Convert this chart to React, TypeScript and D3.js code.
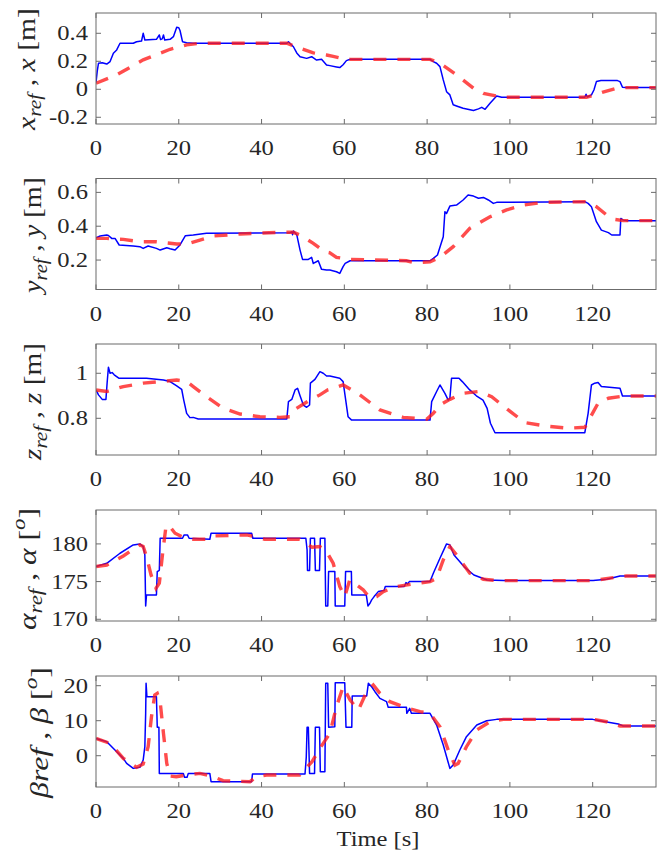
import React from 'react';
import * as d3 from 'd3';

type Pt = [number, number];

// Time axis
const timeTicks = [0, 20, 40, 60, 80, 100, 120];
const timeDomain: [number, number] = [0, 135.3];

// Position x [m]: measured and reference
const xMeasured: Pt[] = [
  [0, 0.048], [0.3, 0.13], [0.6, 0.186], [1.5, 0.19], [2.6, 0.18], [3.4, 0.198], [4.2, 0.257], [5.0, 0.281],
  [5.8, 0.329], [9.0, 0.329], [9.8, 0.34], [11.0, 0.345], [11.4, 0.4], [11.8, 0.352], [14.6, 0.357], [15.3, 0.388],
  [15.6, 0.355], [16.0, 0.36], [16.3, 0.388], [16.6, 0.352], [17.9, 0.357], [18.7, 0.376], [19.5, 0.443], [20.0, 0.44],
  [20.3, 0.42], [20.9, 0.34], [21.9, 0.333], [23.5, 0.329], [46.1, 0.329], [46.5, 0.34], [47.7, 0.304], [48.5, 0.26],
  [49.3, 0.233], [50.9, 0.221], [52.1, 0.233], [53.3, 0.209], [54.5, 0.214], [55.7, 0.174], [56.5, 0.169], [58.1, 0.16],
  [58.9, 0.155], [59.7, 0.175], [60.5, 0.205], [61.4, 0.214], [80.7, 0.214], [81.5, 0.198], [82.3, 0.186], [83.1, 0.162],
  [83.9, 0.067], [84.7, -0.017], [85.5, -0.04], [86.3, -0.11], [87.1, -0.119], [88.7, -0.136], [91.2, -0.152], [92.4, -0.14],
  [93.2, -0.129], [94.0, -0.143], [95.2, -0.1], [96.8, -0.048], [98, -0.057], [118.1, -0.057], [118.4, -0.035], [118.7, -0.055],
  [119.7, -0.04], [120.3, -0.005], [120.9, 0.055], [122.0, 0.062], [126.0, 0.062], [126.6, 0.055], [127.2, 0.014], [128, 0.012],
  [135.3, 0.012],
];
const xReference: Pt[] = [
  [0, 0.043], [5, 0.103], [11.4, 0.21], [17.9, 0.286], [21.9, 0.317], [25.1, 0.329], [46.1, 0.329], [49.3, 0.293],
  [52.5, 0.26], [55.7, 0.245], [57.3, 0.235], [59.7, 0.218], [61.4, 0.214], [80.7, 0.214], [83.1, 0.186], [87.1, 0.103],
  [91.2, 0.007], [93.6, -0.029], [96.8, -0.048], [98.4, -0.057], [118.5, -0.057], [120.1, -0.045], [122.5, -0.02],
  [125.8, 0.007], [127.8, 0.012], [135.3, 0.012],
];
const xTicks = [-0.2, 0, 0.2, 0.4];
const xTickLabels = ['-0.2', '0', '0.2', '0.4'];

// Position y [m]
const yMeasured: Pt[] = [
  [0, 0.332], [1.0, 0.342], [2.6, 0.348], [3.0, 0.345], [3.8, 0.328], [4.6, 0.328], [5.6, 0.289], [9.0, 0.283],
  [10.6, 0.279], [11.4, 0.269], [12.6, 0.283], [14.6, 0.269], [15.5, 0.259], [17.1, 0.273], [17.9, 0.267], [19.1, 0.259],
  [20.3, 0.289], [21.6, 0.344], [23.5, 0.348], [26.7, 0.358], [46.9, 0.362], [47.3, 0.367], [47.5, 0.35], [47.7, 0.372],
  [48.5, 0.35], [49.3, 0.259], [49.9, 0.204], [51.3, 0.204], [52.1, 0.216], [52.5, 0.18], [53.7, 0.196], [54.5, 0.145],
  [55.7, 0.141], [56.5, 0.141], [58.1, 0.131], [58.9, 0.121], [59.7, 0.161], [60.2, 0.18], [61.4, 0.196], [80.7, 0.196],
  [81.5, 0.21], [82.5, 0.23], [83.9, 0.338], [84.3, 0.486], [84.7, 0.476], [85.5, 0.519], [87.1, 0.525], [88.7, 0.555],
  [89.9, 0.584], [91.2, 0.578], [92.4, 0.565], [93.6, 0.57], [94.8, 0.555], [96.0, 0.535], [96.8, 0.541], [100, 0.541],
  [118.1, 0.545], [118.9, 0.535], [119.7, 0.515], [120.9, 0.427], [122.1, 0.377], [123.8, 0.362], [124.6, 0.348],
  [126.6, 0.348], [126.8, 0.446], [127.4, 0.436], [128.2, 0.433], [135.3, 0.433],
];
const yReference: Pt[] = [
  [0, 0.328], [2.6, 0.328], [6.6, 0.322], [10.6, 0.308], [14.6, 0.308], [19.5, 0.295], [21.9, 0.295], [25.1, 0.318],
  [28.3, 0.342], [34.8, 0.354], [44.4, 0.364], [47.7, 0.364], [49.3, 0.348], [52.5, 0.299], [55.3, 0.249], [56.5, 0.243],
  [58.1, 0.216], [61.4, 0.204], [75, 0.196], [77, 0.184], [80.7, 0.19], [83.1, 0.216], [86.3, 0.279], [90.3, 0.387],
  [95.2, 0.456], [99.2, 0.496], [103.2, 0.525], [108.0, 0.541], [118.5, 0.545], [120.9, 0.515], [123.4, 0.466],
  [125.4, 0.44], [127.4, 0.433], [135.3, 0.433],
];
const yTicks = [0.2, 0.4, 0.6];
const yTickLabels = ['0.2', '0.4', '0.6'];

// Position z [m]
const zMeasured: Pt[] = [
  [0, 0.926], [0.6, 0.904], [1.5, 0.884], [2.4, 0.884], [2.7, 0.96], [3.0, 1.027], [3.4, 1.0], [3.9, 1.003], [4.4, 0.993],
  [5.5, 0.978], [12.2, 0.978], [16.3, 0.97], [17.9, 0.963], [19.5, 0.944], [20.7, 0.929], [21.2, 0.881], [21.9, 0.822],
  [22.7, 0.803], [23.5, 0.804], [24.7, 0.797], [46.1, 0.797], [46.5, 0.874], [47.3, 0.884], [48.1, 0.926], [48.7, 0.933],
  [49.3, 0.9], [50.1, 0.859], [50.9, 0.849], [51.6, 0.859], [51.8, 0.956], [52.9, 0.973], [54.1, 1.007], [54.9, 1.0],
  [55.7, 0.988], [56.5, 0.988], [58.9, 0.978], [59.7, 0.963], [60.9, 0.807], [61.7, 0.793], [80.7, 0.792], [81.1, 0.874],
  [82.3, 0.919], [83.1, 0.948], [84.3, 0.911], [85.1, 0.881], [85.5, 0.889], [85.9, 0.978], [87.7, 0.978], [88.5, 0.963],
  [90.3, 0.926], [91.9, 0.9], [93.5, 0.881], [94.5, 0.844], [95.3, 0.778], [96.4, 0.736], [118.1, 0.736], [118.9, 0.822],
  [119.7, 0.948], [120.5, 0.956], [121.3, 0.959], [122.1, 0.941], [126.6, 0.933], [127.2, 0.899], [135.3, 0.899],
];
const zReference: Pt[] = [
  [0, 0.926], [2.6, 0.919], [6.6, 0.941], [11.4, 0.956], [15.5, 0.963], [19.5, 0.97], [21.9, 0.963], [23.5, 0.941],
  [26.7, 0.896], [30.8, 0.844], [34.8, 0.819], [39.6, 0.807], [44.4, 0.804], [46.9, 0.807], [48.1, 0.84], [51.7, 0.881],
  [54.1, 0.904], [56, 0.926], [57.3, 0.933], [59.7, 0.948], [63.0, 0.914], [68.6, 0.837], [74.2, 0.804], [79.9, 0.796],
  [81.5, 0.822], [83.1, 0.859], [85.5, 0.884], [88.7, 0.911], [92.4, 0.919], [95.6, 0.896], [99.6, 0.837], [103.6, 0.781],
  [108.5, 0.766], [114.1, 0.756], [118.1, 0.76], [119.3, 0.8], [121.3, 0.867], [123.8, 0.889], [127.4, 0.899], [135.3, 0.899],
];
const zTicks = [0.8, 1];
const zTickLabels = ['0.8', '1'];

// Orientation alpha [deg]
const alphaMeasured: Pt[] = [
  [0, 176.99], [2.6, 177.43], [5.8, 178.76], [9.0, 179.87], [10.6, 180.0], [11.4, 179.65], [11.8, 178.54], [12.0, 171.77],
  [12.2, 173.23], [14.6, 173.23], [14.8, 176.33], [15.3, 176.5], [15.5, 180.75], [20.9, 180.75], [21.3, 181.19],
  [22.1, 181.19], [22.5, 180.75], [27.5, 180.62], [27.8, 181.42], [37.6, 181.42], [37.9, 180.75], [50.7, 180.75],
  [51.0, 179.2], [51.1, 176.46], [51.6, 176.46], [51.8, 180.75], [52.8, 180.75], [53.0, 176.46], [54.0, 176.46],
  [54.2, 180.75], [55.3, 180.75], [55.5, 171.77], [56.0, 171.77], [56.2, 176.33], [57.7, 176.33], [57.8, 171.77],
  [60.1, 171.77], [60.3, 176.33], [61.7, 176.33], [61.8, 173.23], [65.3, 173.23], [65.7, 171.77], [66.2, 172.12],
  [66.6, 172.57], [67.2, 173.01], [68.2, 173.67], [69.6, 173.81], [69.9, 174.34], [74.5, 174.34], [74.9, 174.87],
  [75.3, 174.69], [75.7, 175.0], [80.7, 175.0], [81.5, 176.11], [83.1, 178.1], [84.7, 180.0], [85.5, 179.87],
  [86.5, 178.54], [88.9, 176.99], [91.3, 175.88], [94.5, 175.22], [98.5, 175.13], [120.1, 175.13], [123.4, 175.31],
  [126.6, 175.75], [135.3, 175.75],
];
const alphaReference: Pt[] = [
  [0, 176.99], [2.6, 177.2], [6.6, 178.4], [10.6, 179.87], [11.4, 179.65], [12.2, 178.32], [13.3, 175.88], [14.5, 174.12],
  [15.3, 174.78], [16.1, 178.76], [16.9, 182.3], [17.5, 182.52], [19.1, 181.42], [20.7, 180.97], [23.5, 180.62],
  [26.7, 180.62], [28.3, 181.06], [36.4, 181.2], [38.4, 180.97], [40.8, 180.62], [49.2, 180.62], [52.2, 179.56],
  [54.1, 179.65], [55.7, 178.98], [57.3, 177.43], [58.9, 174.34], [60.1, 173.01], [61.3, 175.22], [63.0, 174.56],
  [64.6, 173.89], [66.2, 172.79], [67.8, 173.0], [69.4, 173.67], [72.6, 174.34], [76.6, 174.69], [80.7, 175.0],
  [82.3, 175.44], [83.9, 177.88], [85.5, 179.65], [87.1, 178.54], [90.3, 176.11], [93.6, 175.31], [96.8, 175.13],
  [120.1, 175.13], [125.8, 175.58], [128.2, 175.75], [135.3, 175.75],
];
const alphaTicks = [170, 175, 180];
const alphaTickLabels = ['170', '175', '180'];

// Orientation beta [deg]
const betaMeasured: Pt[] = [
  [0, 4.95], [2.6, 4.0], [5.0, 1.14], [6.6, -0.76], [7.4, -2.19], [9.0, -3.62], [10.6, -3.33], [11.4, -1.24], [11.8, 2.57],
  [12.0, 12.1], [12.1, 20.67], [12.3, 16.86], [14.6, 16.86], [14.8, 8.1], [15.2, 8.1], [15.3, -5.05], [21.1, -5.05],
  [21.4, -6.19], [22.0, -6.19], [22.3, -5.05], [27.5, -5.05], [27.8, -7.43], [37.6, -7.43], [37.8, -5.24], [50.5, -5.24],
  [50.8, -0.48], [51.0, 8.1], [51.3, 8.1], [51.6, -5.05], [52.8, -5.05], [53.0, 8.1], [54.0, 8.1], [54.2, -4.57],
  [55.3, -4.57], [55.5, 20.67], [56.0, 20.67], [56.2, 8.1], [57.7, 8.29], [57.8, 20.86], [60.1, 20.86], [60.4, 8.1],
  [61.8, 8.1], [61.9, 17.05], [65.4, 17.05], [65.8, 20.67], [66.6, 19.71], [67.4, 18.29], [68.6, 16.38], [70.2, 15.43],
  [70.6, 13.81], [75.0, 13.81], [75.1, 12.1], [75.8, 13.52], [76.2, 12.1], [80.7, 12.1], [82.3, 8.76], [83.9, 3.05],
  [85.5, -3.62], [86.3, -2.67], [87.9, 1.62], [89.5, 5.43], [92.0, 8.76], [94.4, 10.0], [96.8, 10.38], [120, 10.38],
  [121.7, 10.0], [126.2, 9.05], [127.4, 8.48], [135.3, 8.48],
];
const betaReference: Pt[] = [
  [0, 4.95], [3.4, 3.52], [6.6, -0.76], [9.8, -3.33], [11.4, -2.38], [12.6, 2.57], [13.4, 11.14], [14.2, 17.33],
  [14.8, 17.81], [15.5, 15.43], [16.3, 6.38], [17.1, -2.19], [17.9, -5.81], [19.4, -6.0], [21.9, -5.52], [25.1, -5.05],
  [28.3, -6.0], [30.7, -7.14], [37.2, -7.43], [38.8, -6.0], [41.2, -5.52], [49.2, -5.52], [52.2, -1.71], [54.1, 2.1],
  [56.5, 6.38], [58.1, 14.0], [59.7, 19.71], [61.4, 15.9], [63.4, 13.05], [65.4, 18.29], [67.0, 20.19], [68.6, 17.81],
  [71.0, 15.43], [74.2, 14.0], [78.3, 12.57], [80.7, 12.1], [83.1, 8.29], [85.1, 1.62], [86.7, -2.67], [87.5, -2.19],
  [89.5, 2.57], [92.0, 7.33], [95.2, 9.71], [98.4, 10.38], [120.1, 10.38], [123.4, 9.71], [126.6, 8.48], [135.3, 8.48],
];
const betaTicks = [0, 10, 20];
const betaTickLabels = ['0', '10', '20'];

type Part = { t: string; it?: boolean; sub?: boolean; sup?: boolean };

const labelX: Part[] = [{ t: 'x', it: true }, { t: 'ref', it: true, sub: true }, { t: ' , ' }, { t: 'x', it: true }, { t: ' [m]' }];
const labelY: Part[] = [{ t: 'y', it: true }, { t: 'ref', it: true, sub: true }, { t: ' , ' }, { t: 'y', it: true }, { t: ' [m]' }];
const labelZ: Part[] = [{ t: 'z', it: true }, { t: 'ref', it: true, sub: true }, { t: ' , ' }, { t: 'z', it: true }, { t: ' [m]' }];
const labelAlpha: Part[] = [
  { t: 'α', it: true }, { t: 'ref', it: true, sub: true }, { t: ' , ' }, { t: 'α', it: true }, { t: ' [' }, { t: 'o', it: true, sup: true }, { t: ']' },
];
const labelBeta: Part[] = [
  { t: 'β', it: true }, { t: 'ref', it: true }, { t: ' , ' }, { t: 'β', it: true }, { t: ' [' }, { t: 'o', it: true, sup: true }, { t: ']' },
];

const W = 657;
const H = 859;
const LEFT = 96;
const RIGHT = 656;
const PANEL_H = 111;
const FONT = "'Liberation Serif'";
const TEXT_COLOR = '#262626';
const AXIS_COLOR = '#6b6b6b';
const STRETCH = 1.17;

interface Panel {
  top: number;
  domain: [number, number];
  measured: Pt[];
  reference: Pt[];
  ticks: number[];
  tickLabels: string[];
  label: Part[];
  labelX: number;
  labelBottom: number;
  labelLen: number;
}

const panels: Panel[] = [
  { top: 13, domain: [-0.248, 0.545], measured: xMeasured, reference: xReference, ticks: xTicks, tickLabels: xTickLabels, label: labelX, labelX: 35, labelBottom: 130, labelLen: 122 },
  { top: 178.5, domain: [0.026, 0.682], measured: yMeasured, reference: yReference, ticks: yTicks, tickLabels: yTickLabels, label: labelY, labelX: 41, labelBottom: 293, labelLen: 116 },
  { top: 344, domain: [0.637, 1.13], measured: zMeasured, reference: zReference, ticks: zTicks, tickLabels: zTickLabels, label: labelZ, labelX: 41, labelBottom: 460, labelLen: 117 },
  { top: 510, domain: [169.77, 184.5], measured: alphaMeasured, reference: alphaReference, ticks: alphaTicks, tickLabels: alphaTickLabels, label: labelAlpha, labelX: 36, labelBottom: 630, labelLen: 122 },
  { top: 676, domain: [-8.94, 22.77], measured: betaMeasured, reference: betaReference, ticks: betaTicks, tickLabels: betaTickLabels, label: labelBeta, labelX: 48, labelBottom: 798, labelLen: 131 },
];

function AxisLabel({ parts, x, y, len }: { parts: Part[]; x: number; y: number; len: number }) {
  const main = 22;
  const small = 16;
  let shift = 0;
  return (
    <text
      transform={`translate(${x},${y}) scale(${STRETCH},1) rotate(-90)`}
      style={{ fontFamily: FONT, whiteSpace: 'pre' }}
      fontSize={main}
      fill={TEXT_COLOR}
      textLength={len}
      lengthAdjust="spacingAndGlyphs"
    >
      {parts.map((p, i) => {
        const target = p.sub ? 5 : p.sup ? -9 : 0;
        const dy = target - shift;
        shift = target;
        return (
          <tspan
            key={i}
            dy={dy}
            fontStyle={p.it ? 'italic' : 'normal'}
            fontSize={p.sub || p.sup ? small : main}
          >
            {p.t}
          </tspan>
        );
      })}
    </text>
  );
}

function TickText({ x, y, anchor, children }: { x: number; y: number; anchor: string; children: string }) {
  return (
    <text
      transform={`translate(${x},${y}) scale(${STRETCH},1)`}
      textAnchor={anchor}
      style={{ fontFamily: FONT }}
      fontSize={21}
      fill={TEXT_COLOR}
    >
      {children}
    </text>
  );
}

function PanelView({ p, idx }: { p: Panel; idx: number }) {
  const bottom = p.top + PANEL_H;
  const xs = d3.scaleLinear().domain(timeDomain).range([LEFT, RIGHT]);
  const ys = d3.scaleLinear().domain(p.domain).range([bottom, p.top]);
  const line = d3
    .line<Pt>()
    .x((d) => xs(d[0]))
    .y((d) => ys(d[1]));
  const clipId = `clip-${idx}`;
  const tl = 5;
  return (
    <g>
      <defs>
        <clipPath id={clipId}>
          <rect x={LEFT} y={p.top} width={RIGHT - LEFT} height={PANEL_H} />
        </clipPath>
      </defs>
      <rect x={LEFT} y={p.top} width={RIGHT - LEFT} height={PANEL_H} fill="#fff" />
      <g clipPath={`url(#${clipId})`}>
        <path d={line(p.measured) || ''} fill="none" stroke="#0000ff" strokeWidth={1.5} strokeLinejoin="round" />
        <path
          d={line(p.reference) || ''}
          fill="none"
          stroke="#ff1a1a"
          strokeOpacity={0.78}
          strokeWidth={3.4}
          strokeDasharray="13 11"
        />
      </g>
      {/* box and inward ticks */}
      <rect x={LEFT} y={p.top} width={RIGHT - LEFT} height={PANEL_H} fill="none" stroke={AXIS_COLOR} strokeWidth={1} />
      {timeTicks.map((t) => (
        <g key={`xt${t}`}>
          <line x1={xs(t)} x2={xs(t)} y1={bottom} y2={bottom - tl} stroke={AXIS_COLOR} />
          <line x1={xs(t)} x2={xs(t)} y1={p.top} y2={p.top + tl} stroke={AXIS_COLOR} />
          <TickText x={xs(t)} y={bottom + 31} anchor="middle">{String(t)}</TickText>
        </g>
      ))}
      {p.ticks.map((v, i) => (
        <g key={`yt${v}`}>
          <line x1={LEFT} x2={LEFT + tl} y1={ys(v)} y2={ys(v)} stroke={AXIS_COLOR} />
          <line x1={RIGHT} x2={RIGHT - tl} y1={ys(v)} y2={ys(v)} stroke={AXIS_COLOR} />
          <TickText x={88} y={ys(v) + 7} anchor="end">{p.tickLabels[i]}</TickText>
        </g>
      ))}
      <AxisLabel parts={p.label} x={p.labelX} y={p.labelBottom} len={p.labelLen} />
    </g>
  );
}

export default function App() {
  return (
    <svg width={W} height={H} viewBox={`0 0 ${W} ${H}`} style={{ display: 'block', position: 'absolute', left: 0, top: 0, background: '#fff' }}>
      <rect width={W} height={H} fill="#fff" />
      {panels.map((p, i) => (
        <PanelView key={i} p={p} idx={i} />
      ))}
      <text
        transform={`translate(378,846) scale(${STRETCH},1)`}
        textAnchor="middle"
        style={{ fontFamily: FONT, whiteSpace: 'pre' }}
        fontSize={21}
        fill={TEXT_COLOR}
      >
        Time [s]
      </text>
    </svg>
  );
}
